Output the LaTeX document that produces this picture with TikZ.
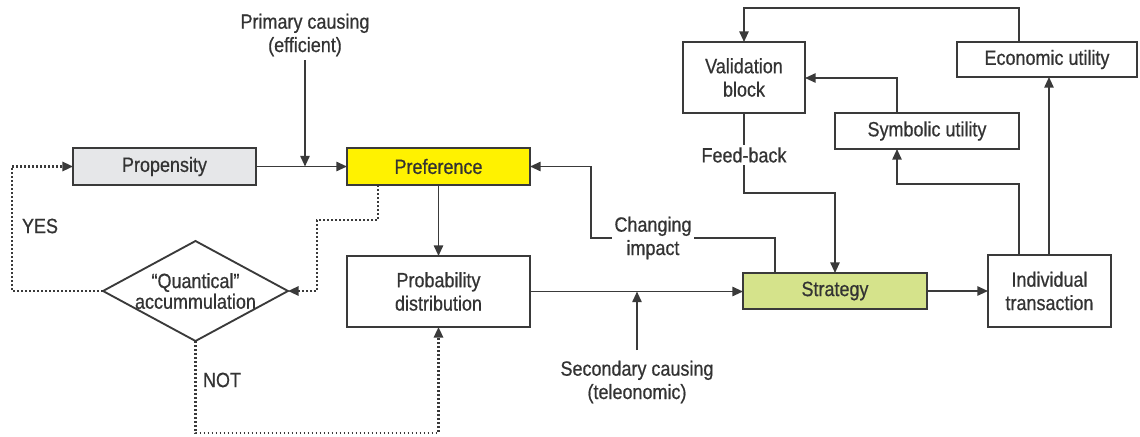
\documentclass[tikz,border=0pt]{standalone}
\usepackage{fontspec}
\setmainfont{Liberation Sans}[FakeStretch=0.87,FakeBold=0.6]
\usetikzlibrary{shapes.geometric,arrows.meta}
\definecolor{ink}{HTML}{3A3A3A}
\definecolor{txt}{HTML}{333333}
\definecolor{propfill}{HTML}{E6E7E9}
\definecolor{preffill}{HTML}{FFF200}
\definecolor{stratfill}{HTML}{D5E38B}
\begin{document}
\begin{tikzpicture}[x=0.75pt,y=-0.75pt,
  every node/.style={font=\fontsize{15.5}{17.5}\selectfont, text=txt, align=center, outer sep=0pt},
  box/.style={draw=ink, line width=1.4pt, inner sep=2pt},
  conn/.style={draw=ink, line width=1.3pt},
  arr/.style={conn, -{Triangle[length=8pt,width=7pt]}},
  dots/.style={draw=ink, line width=1.6pt, dash pattern=on 1.3pt off 1.7pt},
  darr/.style={dots, -{Triangle[length=8pt,width=7pt,sep=0pt]}},
  lbl/.style={fill=white, inner sep=2pt}
]
\useasboundingbox (0,0) rectangle (1140,436);

% nodes
\node[box, fill=propfill, minimum width=137.25pt, minimum height=27.75pt] (prop) at (164.5,166.5) {Propensity};
\node[box, fill=preffill, minimum width=137.25pt, minimum height=27.75pt] (pref) at (438.5,166.5) {Preference};
\node[box, minimum width=137.25pt, minimum height=53.25pt] (prob) at (438.5,291.5) {Probability\\distribution};
\node[box, diamond, inner sep=0pt, minimum width=138.75pt, minimum height=75pt] (quant) at (195.5,291) {};
\node at (195.5,291) {“Quantical”\\[-2pt]accummulation};
\node[box, fill=stratfill, minimum width=138pt, minimum height=27pt] (strat) at (835,291) {Strategy};
\node[box, minimum width=92.25pt, minimum height=54pt] (indiv) at (1049.5,291) {Individual\\transaction};
\node[box, minimum width=91.5pt, minimum height=53.25pt] (valid) at (744,77.5) {Validation\\block};
\node[box, minimum width=135pt, minimum height=26.25pt] (econ) at (1047,59.5) {Economic utility};
\node[box, minimum width=138pt, minimum height=27pt] (symb) at (927,131) {Symbolic utility};

% labels
\node[inner sep=0pt] (pclbl) at (305,35) {Primary causing\\(efficient)};
\node[inner sep=0pt] (sclbl) at (637,382) {Secondary causing\\(teleonomic)};
\node at (40,226) {YES};
\node at (222,380) {NOT};

% coordinates
\coordinate (pcend) at (305,166.5);
\coordinate (scend) at (637,291.5);

% solid connectors
\draw[arr] (prop) -- (pref);
\draw[arr] (pclbl.south |- 0,60) -- (pcend);
\draw[arr] (pref) -- (prob);
\draw[arr] (prob.east) -- (strat.west |- prob.east);
\draw[arr] (sclbl.north |- 0,350) -- (scend);
\draw[arr] (strat) -- (indiv.west |- strat);
\draw[arr] (strat.north -| 775,0) -- (775,238) -- (591,238) -- (591,166.5) -- (pref.east);
\node[lbl] (chg) at (653,238) {Changing\\impact};
\draw[arr] (valid.south) -- (744,193) -- (835,193) -- (strat.north);
\node[lbl] (fb) at (744,155) {Feed-back};
\draw[arr] (indiv.north -| 1019,0) -- (1019,184) -- (897,184) -- (symb.south -| 897,0);
\draw[arr] (indiv.north -| 1049,0) -- (econ.south -| 1049,0);
\draw[arr] (symb.north -| 897,0) -- (897,78) -- (valid.east |- 0,78);
\draw[arr] (econ.north -| 1019,0) -- (1019,8) -- (744,8) -- (valid.north);

% dotted connectors
\draw[darr] (pref.south -| 378,0) -- (378,220) -- (317,220) -- (317,291) -- (quant.east);
\draw[darr] (quant.west) -- (12,291) -- (12,166.5) -- (prop.west);
\draw[darr] (quant.south) -- (195.5,433) -- (438.5,433) -- (prob.south);
\end{tikzpicture}
\end{document}
